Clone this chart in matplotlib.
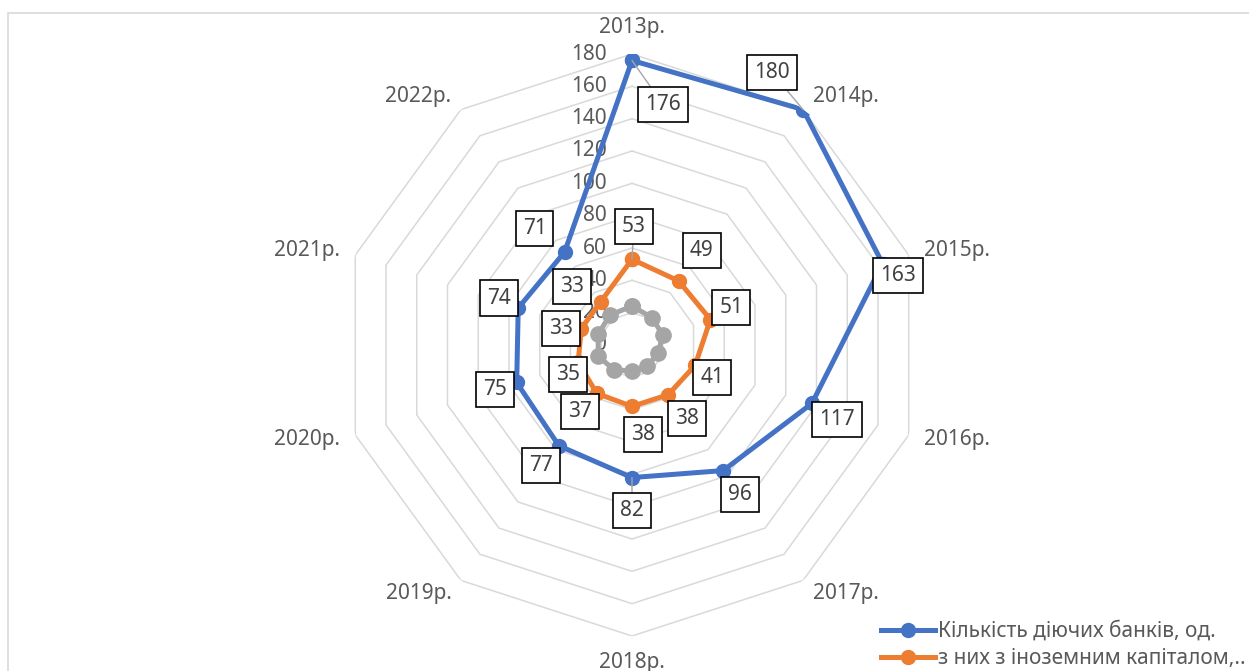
import numpy as np
import matplotlib
matplotlib.use('Agg')
import matplotlib.pyplot as plt
from matplotlib.patches import Rectangle

plt.rcParams['font.family'] = ['Noto Sans', 'DejaVu Sans']

# --- дані ---
years = ['2013р.', '2014р.', '2015р.', '2016р.', '2017р.',
         '2018р.', '2019р.', '2020р.', '2021р.', '2022р.']
banks_total = [176, 180, 163, 117, 96, 82, 77, 75, 74, 71]
banks_foreign = [53, 49, 51, 41, 38, 38, 37, 35, 33, 33]
banks_third = [24, 21, 20, 17, 16, 16, 19, 22, 22, 23]
r_ticks = [0, 20, 40, 60, 80, 100, 120, 140, 160, 180]

label_total = 'Кількість діючих банків, од.'
label_foreign = 'з них з іноземним капіталом,..'

# зсуви підписів даних (пікселі, вниз = +)
off_total = [(31, 44), (-31, -37), (15, 12), (25, 16), (17, 24),
             (0, 33), (-18, 20), (-22, 7), (-19, -10), (-30, -24)]
off_foreign = [(2, -33), (23, -30), (21, -12), (17, 12), (19, 24),
               (11, 28), (-17, 18), (-10, 12), (-20, 0), (-29, -15)]
leader_total = [0, 1, 5]
leader_foreign = [0]

BLUE = '#4472C4'
ORANGE = '#ED7D31'
GREY = '#A5A5A5'
TXT = '#595959'

W, H = 1249, 671
cx, cy, R = 632, 345, 291

fig = plt.figure(figsize=(W / 100, H / 100), dpi=100)
ax = fig.add_axes([(cx - R) / W, (H - cy - R) / H, 2 * R / W, 2 * R / H],
                  projection='polar')
ax.set_theta_zero_location('N')
ax.set_theta_direction(-1)
ax.set_ylim(0, 180)
ax.grid(False)
ax.spines['polar'].set_visible(False)
ax.set_xticks([])
ax.set_yticks([])
ax.patch.set_alpha(0)

theta = np.linspace(0, 2 * np.pi, len(years), endpoint=False)
theta_c = np.append(theta, theta[0])

# --- сітка-десятикутники ---
for v in r_ticks[1:]:
    ax.plot(theta_c, [v] * len(theta_c), color='#d9d9d9', lw=1.1, zorder=1)

# --- підписи шкали ---
for v in r_ticks:
    ax.annotate(str(v), xy=(0, v), xytext=(-25, 0), textcoords='offset pixels',
                ha='right', va='center', fontsize=15, color=TXT, zorder=2)

# --- підписи категорій ---
for t, name in zip(theta, years):
    s = np.sin(t)
    if abs(s) < 1e-6:
        ha = 'center'
        va = 'bottom' if np.cos(t) > 0 else 'top'
    else:
        ha = 'left' if s > 0 else 'right'
        va = 'center'
    ax.text(t, 190, name, ha=ha, va=va, fontsize=15, color=TXT, clip_on=False)

# --- ряди ---
def series(vals, color, label, z, ms=10):
    v = list(vals) + [vals[0]]
    line, = ax.plot(theta_c, v, color=color, lw=3.6, marker='o', markersize=ms,
                    label=label, zorder=z)
    return line

series(banks_third, GREY, None, 3, ms=11)
h_foreign = series(banks_foreign, ORANGE, label_foreign, 4)
h_total = series(banks_total, BLUE, label_total, 5)

# --- підписи даних ---
def data_labels(vals, offsets, leaders):
    for i, (t, v, (dx, dy)) in enumerate(zip(theta, vals, offsets)):
        arrow = None
        if i in leaders:
            arrow = dict(arrowstyle='-', color='#a6a6a6', lw=1.0,
                         shrinkA=0, shrinkB=0)
        ax.annotate(str(v), xy=(t, v), xytext=(dx, -dy),
                    textcoords='offset pixels', ha='center', va='center',
                    fontsize=15, color='#404040', zorder=7,
                    bbox=dict(boxstyle='square,pad=0.34', fc='white',
                              ec='black', lw=1.2),
                    arrowprops=arrow, annotation_clip=False)

data_labels(banks_total, off_total, leader_total)
data_labels(banks_foreign, off_foreign, leader_foreign)

# --- легенда ---
fig.legend(handles=[h_total, h_foreign], loc='upper left',
           bbox_to_anchor=(881 / W, 1 - 621 / H),
           frameon=False, fontsize=15, handlelength=2.6, handletextpad=0.15,
           borderpad=0, borderaxespad=0, labelspacing=0.3, labelcolor=TXT)

# --- рамка ---
fig.patches.append(Rectangle((8 / W, -0.1), 1.0, (H - 13) / H + 0.1,
                             transform=fig.transFigure, fill=False,
                             ec='#d9d9d9', lw=1.2))

fig.savefig('out.png', dpi=100)
